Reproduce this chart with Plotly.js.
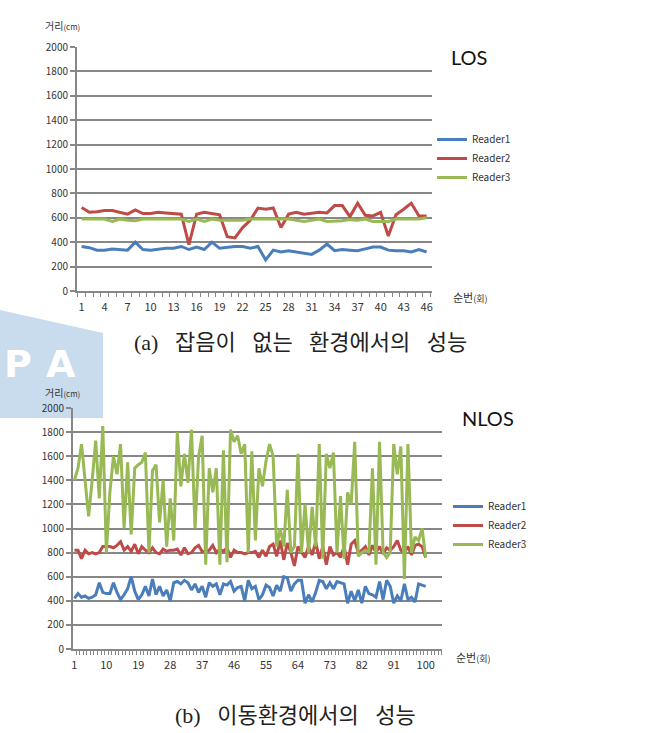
<!DOCTYPE html>
<html>
<head>
<meta charset="utf-8">
<script src="https://cdn.plot.ly/plotly-3.0.1.min.js"></script>
<style>
  html, body { margin: 0; padding: 0; background: #fff; }
  #chart { width: 647px; height: 733px; }
</style>
</head>
<body>
<div id="chart"></div>
<script>
// LOS (no noise), 46 trials
var losRuns = [];
for (var i = 1; i <= 46; i++) losRuns.push(i);
var losReader1 = [365,355,335,335,345,340,335,400,340,335,345,350,350,365,340,360,340,400,350,360,365,365,350,365,255,335,320,330,320,310,300,335,385,330,340,335,330,345,360,360,335,330,330,320,340,320];
var losReader2 = [685,645,650,660,660,645,630,665,635,635,645,640,635,630,380,630,645,635,625,445,435,520,580,680,670,680,520,630,645,630,635,645,640,700,700,610,720,620,615,645,450,625,670,720,615,615];
var losReader3 = [590,590,590,590,570,590,580,575,590,590,590,590,585,590,570,590,570,590,580,580,580,580,590,590,590,585,590,590,580,570,580,590,570,570,575,585,580,590,570,570,570,590,590,585,590,600];
var losTicks = [1,4,7,10,13,16,19,22,25,28,31,34,37,40,43,46];

// NLOS (moving environment), 100 trials
var nlosRuns = [];
for (var j = 1; j <= 100; j++) nlosRuns.push(j);
var nlosReader1 = [420,460,430,440,420,430,450,550,470,460,
                   460,550,470,410,450,500,600,480,410,450,
                   520,440,580,450,520,440,490,400,550,560,
                   540,570,550,490,540,470,520,430,550,520,
                   540,450,540,530,560,480,510,520,400,570,
                   500,520,410,450,530,510,440,530,480,600,
                   590,480,540,570,570,380,450,390,470,570,
                   560,500,550,500,560,550,540,380,480,400,
                   490,380,520,460,450,430,560,410,570,520,
                   380,440,400,540,410,430,390,540,530,520];
var nlosReader2 = [820,820,750,820,790,800,790,800,850,850,
                   850,840,860,890,820,850,810,870,790,850,
                   820,800,840,800,790,830,810,820,820,830,
                   780,840,790,800,840,860,810,810,820,860,
                   800,830,810,840,760,820,800,800,790,800,
                   800,810,760,820,770,850,870,770,900,740,
                   880,800,690,850,800,760,850,780,890,750,
                   850,700,850,780,800,760,850,700,870,900,
                   800,820,850,780,860,800,850,790,840,820,
                   850,900,820,800,850,780,860,870,850,760];
var nlosReader3 = [1400,1500,1700,1400,1100,1400,1730,1250,1850,800,
                   1300,1600,1450,1700,1000,1550,950,1500,1530,1550,
                   1630,800,1480,1530,1050,1400,850,1250,900,1800,
                   1350,1620,1380,1820,1000,1600,1770,700,1500,1300,
                   1500,700,1650,720,1820,1720,1770,1620,1700,800,
                   1640,900,1500,1350,1560,1700,1600,850,1000,850,
                   1320,800,850,1620,800,1200,800,1180,850,1700,
                   750,1620,1500,1630,800,1270,750,1300,1200,1720,
                   770,800,820,800,1500,700,1720,800,760,800,
                   1700,1450,1680,580,1700,800,930,900,1000,760];
var nlosTicks = [1,10,19,28,37,46,55,64,73,82,91,100];

var yTicks = [0,200,400,600,800,1000,1200,1400,1600,1800,2000];
var seriesNames = ["Reader1", "Reader2", "Reader3"];
var seriesColors = ["#4a7ebb", "#be4b48", "#98b954"];

var W = 647, H = 733;
function px(x) { return x / W; }
function py(y) { return 1 - y / H; }

var FONT = "Noto Sans CJK KR, Noto Sans, sans-serif";
var CAPTION = "Liberation Serif, Noto Sans CJK KR";
var GRID = "#878787";
var SP = "\u00a0\u00a0\u00a0"; // wide gap as in the printed captions

var losSets = [losReader1, losReader2, losReader3];
var nlosSets = [nlosReader1, nlosReader2, nlosReader3];
var data = [];
losSets.forEach(function (ys, k) {
  data.push({x: losRuns, y: ys, name: seriesNames[k], type: "scatter", mode: "lines",
    line: {color: seriesColors[k], width: 3}, xaxis: "x", yaxis: "y", legend: "legend"});
});
nlosSets.forEach(function (ys, k) {
  data.push({x: nlosRuns, y: ys, name: seriesNames[k], type: "scatter", mode: "lines",
    line: {color: seriesColors[k], width: 3}, xaxis: "x2", yaxis: "y2", legend: "legend2"});
});

function xAxis(domain, range, ticks, anchor) {
  return {
    domain: domain, range: range, anchor: anchor,
    tickmode: "array", tickvals: ticks,
    ticks: "outside", ticklen: 5, tickcolor: "rgba(0,0,0,0)",
    tickfont: {family: FONT, size: 11, color: "#333"},
    showline: true, linecolor: GRID, linewidth: 2,
    showgrid: false, zeroline: false,
    minor: {ticks: "outside", tick0: 0.5, dtick: 1, ticklen: 4, tickcolor: GRID, tickwidth: 1, showgrid: false}
  };
}
function yAxis(domain, anchor) {
  return {
    domain: domain, range: [0, 2000], anchor: anchor,
    tickmode: "array", tickvals: yTicks,
    ticks: "outside", ticklen: 5, tickcolor: GRID, tickwidth: 2,
    tickfont: {family: FONT, size: 10, color: "#333"},
    showline: true, linecolor: GRID, linewidth: 2,
    showgrid: true, gridcolor: GRID, gridwidth: 2, zeroline: false
  };
}

function note(text, x, y, xanchor, font, yanchor) {
  return {text: text, x: px(x), y: py(y), xref: "paper", yref: "paper",
    xanchor: xanchor, yanchor: yanchor || "middle", showarrow: false, font: font};
}

var layout = {
  width: W, height: H, autosize: false,
  margin: {l: 0, r: 0, t: 0, b: 0},
  paper_bgcolor: "#fff", plot_bgcolor: "rgba(0,0,0,0)",
  font: {family: FONT, color: "#333"},
  xaxis: xAxis([px(77), px(432)], [0.4, 46.7], losTicks, "y"),
  yaxis: yAxis([py(291), py(47)], "x"),
  xaxis2: xAxis([px(73), px(442)], [0.6, 104.6], nlosTicks, "y2"),
  yaxis2: yAxis([py(649), py(408)], "x2"),
  legend: {x: px(432), y: py(125), xanchor: "left", yanchor: "top",
    font: {family: FONT, size: 10, color: "#333"}, bgcolor: "rgba(0,0,0,0)", itemwidth: 30},
  legend2: {x: px(448), y: py(492), xanchor: "left", yanchor: "top",
    font: {family: FONT, size: 10, color: "#333"}, bgcolor: "rgba(0,0,0,0)", itemwidth: 30},
  shapes: [{
    type: "path", xref: "paper", yref: "paper", layer: "below",
    path: "M0," + py(310) + " L" + px(103) + "," + py(333) + " L" + px(103) + "," + py(418) + " L0," + py(418) + " Z",
    fillcolor: "#c9dcee", line: {width: 0}
  }],
  annotations: [
    note("P", 34, 388, "right", {family: "DejaVu Sans", size: 38, color: "#fff", weight: "bold"}, "bottom"),
    note("A", 61, 388, "center", {family: "DejaVu Sans", size: 38, color: "#fff", weight: "bold"}, "bottom"),
    note("거리<span style='font-size:8px'>(cm)</span>", 43, 25, "left", {family: FONT, size: 10, color: "#333"}),
    note("LOS", 449, 57, "left", {family: "Lato, Noto Sans", size: 20, color: "#111"}),
    note("순번<span style='font-size:9px'>(회)</span>", 451, 297, "left", {family: FONT, size: 11, color: "#333"}),
    note("(a)" + SP + "잡음이" + SP + "없는" + SP + "환경에서의" + SP + "성능", 300, 342, "center",
      {family: CAPTION, size: 22, color: "#222"}),
    note("거리<span style='font-size:8px'>(cm)</span>", 43, 392, "left", {family: FONT, size: 10, color: "#333"}),
    note("NLOS", 460, 418, "left", {family: "Lato, Noto Sans", size: 20, color: "#111"}),
    note("순번<span style='font-size:9px'>(회)</span>", 454, 657, "left", {family: FONT, size: 11, color: "#333"}),
    note("(b)" + SP + "이동환경에서의" + SP + "성능", 295, 715, "center",
      {family: CAPTION, size: 22, color: "#222"})
  ]
};

Plotly.newPlot("chart", data, layout, {staticPlot: true, displayModeBar: false});
</script>
</body>
</html>
